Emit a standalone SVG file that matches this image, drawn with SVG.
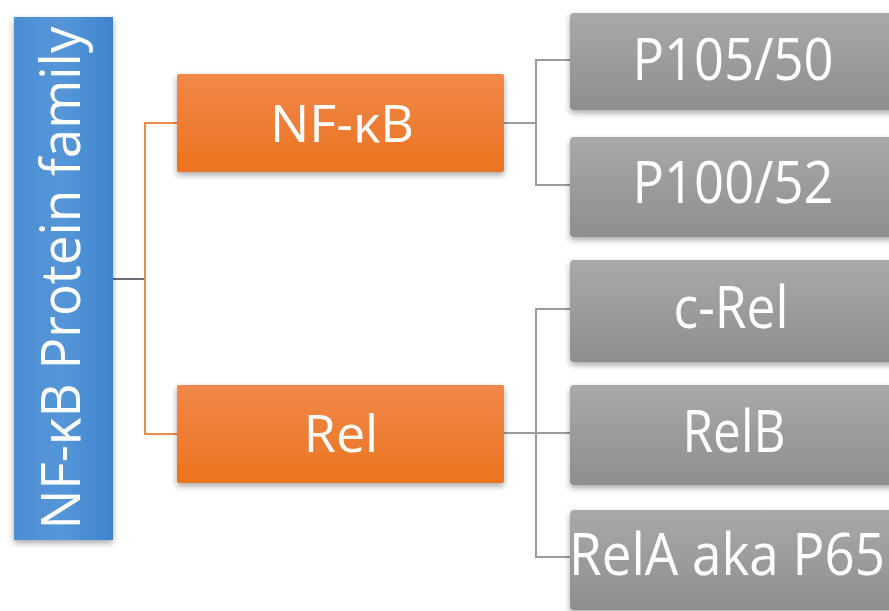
<svg xmlns="http://www.w3.org/2000/svg" width="889" height="611" viewBox="0 0 889 611">
<defs>
<linearGradient id="gBlue" x1="0" y1="0" x2="1" y2="0">
<stop offset="0" stop-color="#4C8ED3"/><stop offset="0.5" stop-color="#5596D8"/><stop offset="1" stop-color="#3E84CF"/>
</linearGradient>
<linearGradient id="gOrange" x1="0" y1="0" x2="0" y2="1">
<stop offset="0" stop-color="#F2884A"/><stop offset="1" stop-color="#EA741F"/>
</linearGradient>
<linearGradient id="gGray" x1="0" y1="0" x2="0" y2="1">
<stop offset="0" stop-color="#A9A9A9"/><stop offset="1" stop-color="#8E8E8E"/>
</linearGradient>
<filter id="sh" x="-10%" y="-10%" width="120%" height="130%">
<feDropShadow dx="0" dy="3" stdDeviation="3" flood-color="#000" flood-opacity="0.35"/>
</filter>
</defs>
<style>
text{font-family:"Open Sans","Liberation Sans",sans-serif;fill:#FFFFFF;text-anchor:middle}
.o{fill:none;stroke:#EE8A4A;stroke-width:2}
.g{fill:none;stroke:#9A9A9A;stroke-width:2}
.gt{font-size:58px}
</style>
<rect width="889" height="611" fill="#FFFFFF"/>
<g id="connectors">
<path d="M113 279 H145" fill="none" stroke="#6E6A78" stroke-width="2"/>
<path class="o" d="M177 123 H145 V434 H177"/>
<path class="g" d="M504 123 H536 M570 60 H536 V185 H570"/>
<path class="g" d="M504 433 H570 M570 309 H536 V557 H570"/>
</g>
<g id="root">
<rect x="14" y="17" width="99" height="523" fill="url(#gBlue)" filter="url(#sh)"/>
<text transform="translate(80 278) rotate(-90)" font-size="54" textLength="503" lengthAdjust="spacingAndGlyphs">NF-κB Protein family</text>
</g>
<g id="nfkb">
<rect x="177" y="74" width="327" height="98" rx="2" fill="url(#gOrange)" filter="url(#sh)"/>
<text x="342" y="142" font-size="52" textLength="144" lengthAdjust="spacingAndGlyphs">NF-κB</text>
</g>
<g id="rel">
<rect x="177" y="385" width="327" height="98" rx="2" fill="url(#gOrange)" filter="url(#sh)"/>
<text x="341" y="452" font-size="52">Rel</text>
</g>
<g id="p105">
<rect x="570" y="13" width="330" height="97" rx="4" fill="url(#gGray)" filter="url(#sh)"/>
<text class="gt" x="733" y="80" textLength="201" lengthAdjust="spacingAndGlyphs">P105/50</text>
</g>
<g id="p100">
<rect x="570" y="137" width="330" height="100" rx="4" fill="url(#gGray)" filter="url(#sh)"/>
<text class="gt" x="733" y="203" textLength="201" lengthAdjust="spacingAndGlyphs">P100/52</text>
</g>
<g id="crel">
<rect x="570" y="260" width="330" height="102" rx="4" fill="url(#gGray)" filter="url(#sh)"/>
<text class="gt" x="731" y="328" textLength="115" lengthAdjust="spacingAndGlyphs">c-Rel</text>
</g>
<g id="relb">
<rect x="570" y="385" width="330" height="100" rx="4" fill="url(#gGray)" filter="url(#sh)"/>
<text class="gt" x="734" y="452" textLength="103" lengthAdjust="spacingAndGlyphs">RelB</text>
</g>
<g id="rela">
<rect x="570" y="510" width="330" height="100" rx="4" fill="url(#gGray)" filter="url(#sh)"/>
<text class="gt" x="727" y="575" textLength="316" lengthAdjust="spacingAndGlyphs">RelA aka P65</text>
</g>
</svg>
